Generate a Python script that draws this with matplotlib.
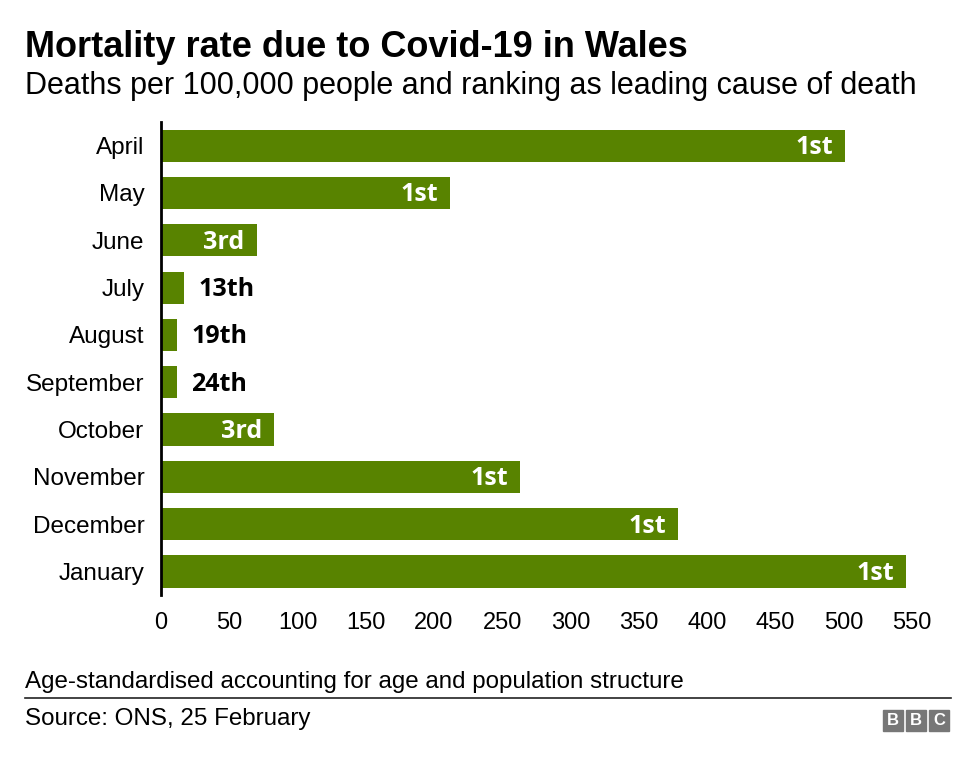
import matplotlib.pyplot as plt
from matplotlib.patches import Rectangle

months = ['April', 'May', 'June', 'July', 'August', 'September',
          'October', 'November', 'December', 'January']
rate = [501, 212, 70, 17, 12, 12, 83, 263, 379, 546]
ranks = ['1st', '1st', '3rd', '13th', '19th', '24th', '3rd', '1st', '1st', '1st']
xticks = [0, 50, 100, 150, 200, 250, 300, 350, 400, 450, 500, 550]

green = '#588300'
plt.rcParams['font.family'] = ['Liberation Sans', 'DejaVu Sans']

fig = plt.figure(figsize=(9.76, 7.65), dpi=100)
ax = fig.add_axes([0.165, 0.222, 0.769, 0.6185])

ypos = list(range(len(months)))
ax.barh(ypos, rate, height=0.68, color=green, zorder=2)
ax.set_ylim(len(months) - 0.5, -0.5)
ax.set_xlim(0, 550)
ax.set_yticks(ypos)
ax.set_yticklabels(months, fontsize=17.5)
ax.set_xticks(xticks)
ax.set_xticklabels([str(t) for t in xticks], fontsize=17)
ax.tick_params(axis='y', length=0, pad=12)
ax.tick_params(axis='x', length=0, pad=12)
for s in ['top', 'right', 'bottom']:
    ax.spines[s].set_visible(False)
ax.spines['left'].set_linewidth(2)
ax.spines['left'].set_zorder(3)

# rank labels: white inside long bars, black beside short ones
for y, v, r in zip(ypos, rate, ranks):
    if v > 40:
        ax.annotate(r, (v, y), xytext=(-12, -2), textcoords='offset pixels',
                    ha='right', va='center', color='white', fontsize=18,
                    fontweight='bold', family='Open Sans')
    else:
        ax.annotate(r, (v, y), xytext=(14, -2), textcoords='offset pixels',
                    ha='left', va='center', color='black', fontsize=18,
                    fontweight='bold', family='Open Sans')

fig.text(0.026, 0.938, 'Mortality rate due to Covid-19 in Wales', fontsize=26,
         fontweight='bold', va='center')
fig.text(0.026, 0.887, 'Deaths per 100,000 people and ranking as leading cause of death',
         fontsize=22, va='center')
fig.text(0.026, 0.109, 'Age-standardised accounting for age and population structure',
         fontsize=17.4, va='center')
fig.add_artist(plt.Line2D([0.026, 0.974], [0.0875, 0.0875], color='#222222', lw=1.2))
fig.text(0.026, 0.06, 'Source: ONS, 25 February', fontsize=17.4, va='center')

# BBC blocks
bw, bh = 20 / 976, 21 / 765
for i, letter in enumerate('BBC'):
    x0 = (883 + i * 23) / 976
    y0 = 1 - 731 / 765
    fig.add_artist(Rectangle((x0, y0), bw, bh, transform=fig.transFigure,
                             color='#777777'))
    fig.text(x0 + bw / 2, y0 + bh / 2, letter, color='white', fontsize=12,
             fontweight='bold', ha='center', va='center')

fig.savefig('out.png', dpi=100)
